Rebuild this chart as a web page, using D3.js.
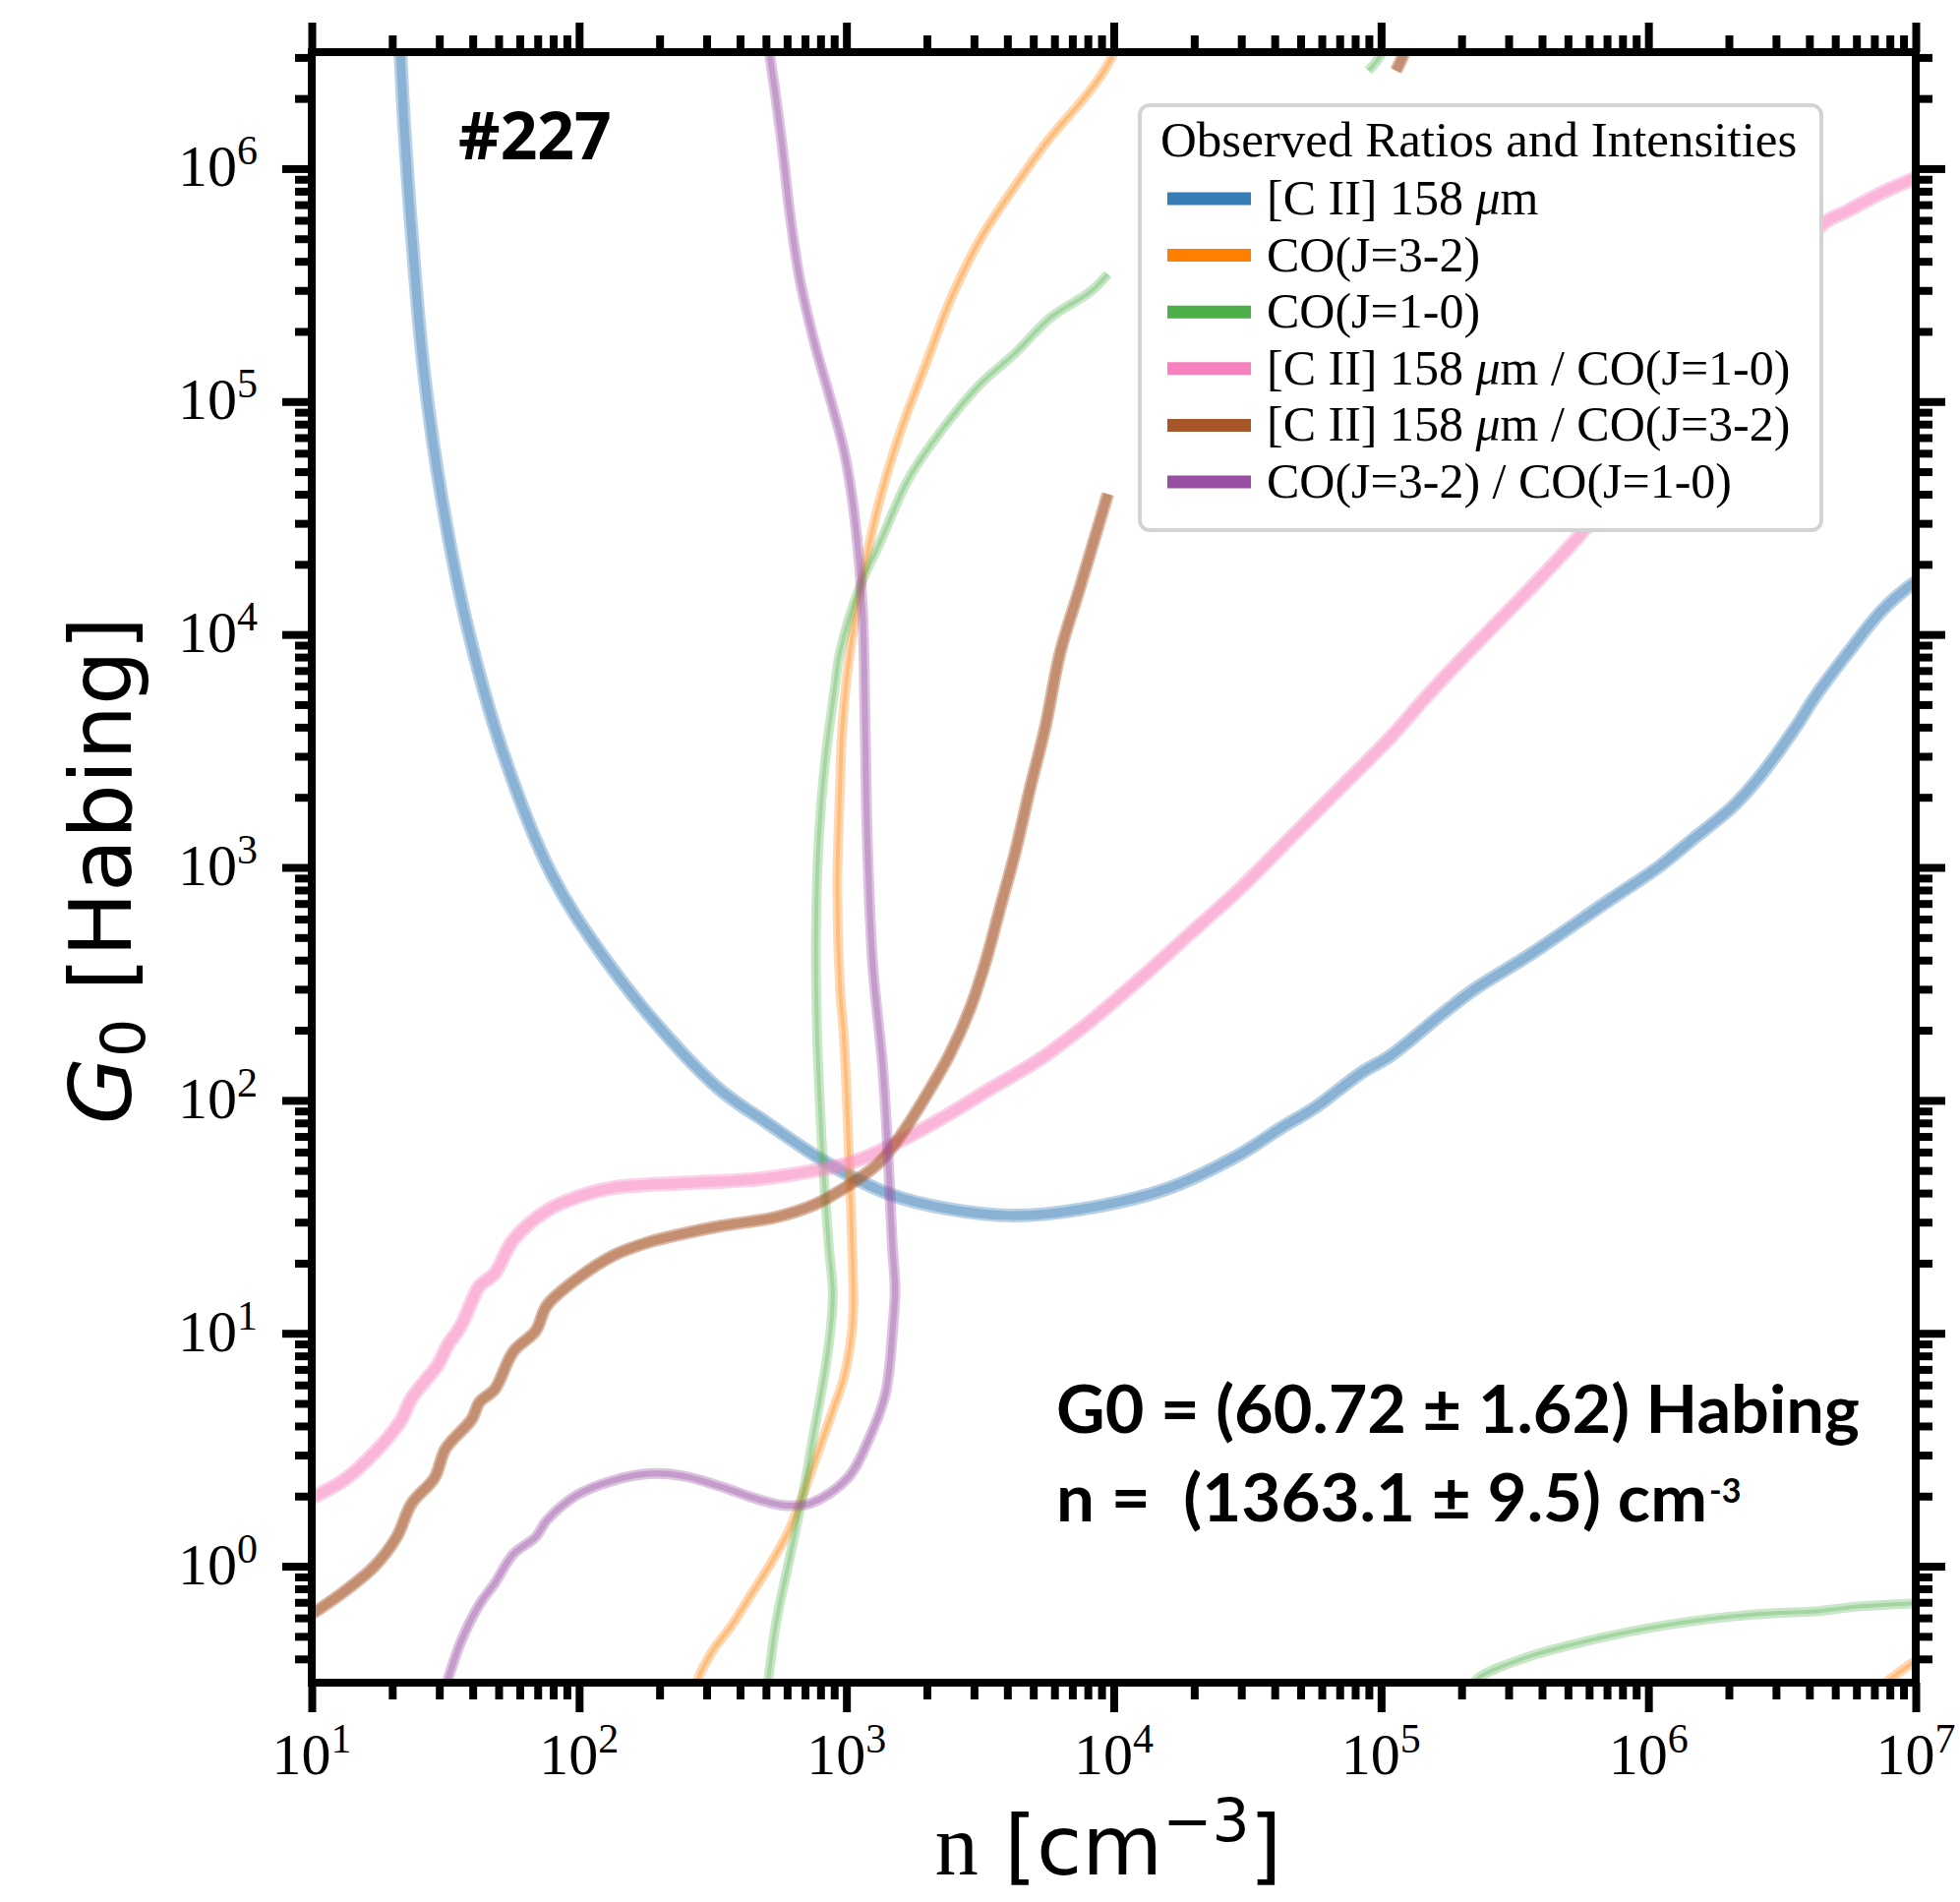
<!DOCTYPE html>
<html>
<head>
<meta charset="utf-8">
<script src="https://cdn.jsdelivr.net/npm/d3@7"></script>
<style>
    body { margin: 0; background: #fff; }
    svg { display: block; }
</style>
</head>
<body>
<svg id="chart"></svg>
<script>
const svgWidth = 1993
const svgHeight = 1934
const margin = { left: 317, right: 45, top: 53, bottom: 223 }
const width = svgWidth - margin.left - margin.right
const height = svgHeight - margin.top - margin.bottom

// curve points, as [log10 n, log10 G0]
const ciiLine = [[1.325, 6.60], [1.331, 6.505], [1.345, 6.199], [1.378, 5.661], [1.420, 5.124], [1.486, 4.586],
    [1.579, 4.048], [1.710, 3.511], [1.896, 2.973], [2.083, 2.630], [2.303, 2.310], [2.527, 2.045], [2.695, 1.910],
    [2.919, 1.737], [3.162, 1.597], [3.390, 1.532], [3.633, 1.505], [3.876, 1.532], [4.193, 1.618], [4.473, 1.769],
    [4.618, 1.876], [4.758, 1.973], [4.926, 2.118], [5.038, 2.194], [5.234, 2.376], [5.351, 2.478], [5.547, 2.618],
    [5.855, 2.860], [6.042, 3.005], [6.163, 3.118], [6.317, 3.263], [6.411, 3.382], [6.551, 3.602], [6.626, 3.737],
    [6.752, 3.930], [6.873, 4.102], [6.980, 4.210], [7.02, 4.24]]

const co32Line = [[2.433, -0.548], [2.443, -0.490], [2.499, -0.364], [2.570, -0.255], [2.640, -0.128], [2.710, -0.001],
    [2.781, 0.144], [2.837, 0.306], [2.893, 0.487], [2.949, 0.668], [2.991, 0.812], [3.019, 0.993], [3.026, 1.120],
    [3.021, 1.391], [3.010, 1.753], [3.000, 2.049], [2.989, 2.296], [2.976, 2.481], [2.966, 2.912], [2.976, 3.344],
    [2.985, 3.606], [3.013, 3.924], [3.070, 4.301], [3.126, 4.584], [3.201, 4.868], [3.294, 5.151], [3.388, 5.434],
    [3.501, 5.698], [3.631, 5.925], [3.762, 6.133], [3.875, 6.284], [3.951, 6.397], [3.997, 6.491], [4.011, 6.548]]
const co32Corner = [[6.868, -0.522], [6.905, -0.484], [6.982, -0.419], [7.02, -0.39]]

const co10Line = [[2.699, -0.548], [2.707, -0.490], [2.738, -0.236], [2.781, -0.001], [2.837, 0.306], [2.879, 0.578],
    [2.921, 0.848], [2.942, 1.030], [2.949, 1.174], [2.933, 1.392], [2.912, 1.737], [2.900, 2.005], [2.891, 2.265],
    [2.886, 2.696], [2.897, 3.128], [2.920, 3.452], [2.957, 3.776], [2.976, 3.924], [3.051, 4.207], [3.126, 4.396],
    [3.238, 4.679], [3.388, 4.924], [3.501, 5.075], [3.631, 5.208], [3.762, 5.359], [3.913, 5.472], [3.978, 5.547]]
const co10Top = [[4.953, 6.420], [5.000, 6.491], [5.010, 6.548]]
const co10Low = [[5.328, -0.548], [5.359, -0.484], [5.545, -0.391], [5.699, -0.341], [5.854, -0.299], [6.009, -0.264],
    [6.163, -0.236], [6.318, -0.215], [6.472, -0.201], [6.627, -0.194], [6.782, -0.173], [6.982, -0.160], [7.02, -0.158]]

const ciiCo10Line = [[0.98, 0.28], [1.009, 0.298], [1.121, 0.370], [1.234, 0.487], [1.332, 0.623], [1.374, 0.722],
    [1.473, 0.867], [1.508, 0.948], [1.557, 1.030], [1.599, 1.138], [1.627, 1.202], [1.684, 1.256], [1.754, 1.401],
    [1.880, 1.527], [2.007, 1.590], [2.134, 1.626], [2.387, 1.645], [2.668, 1.662], [2.879, 1.698], [3.019, 1.734],
    [3.185, 1.816], [3.351, 1.919], [3.538, 2.049], [3.725, 2.178], [3.913, 2.340], [4.100, 2.524], [4.288, 2.718],
    [4.475, 2.912], [4.662, 3.128], [4.850, 3.344], [5.037, 3.560], [5.164, 3.726], [5.304, 3.898], [5.468, 4.091],
    [5.622, 4.274], [5.734, 4.414], [6.051, 4.844], [6.378, 5.285], [6.649, 5.758], [6.748, 5.820], [6.870, 5.894],
    [6.986, 5.954], [7.02, 5.97]]

const ciiCo32Line = [[0.98, -0.22], [1.009, -0.199], [1.121, -0.109], [1.234, -0.001], [1.318, 0.126], [1.374, 0.270],
    [1.459, 0.379], [1.501, 0.505], [1.599, 0.632], [1.627, 0.704], [1.684, 0.759], [1.754, 0.921], [1.838, 1.011],
    [1.880, 1.120], [2.007, 1.246], [2.134, 1.337], [2.260, 1.391], [2.387, 1.427], [2.527, 1.460], [2.738, 1.499],
    [2.882, 1.553], [3.013, 1.639], [3.126, 1.736], [3.219, 1.876], [3.313, 2.049], [3.388, 2.201], [3.463, 2.395],
    [3.519, 2.589], [3.575, 2.826], [3.631, 3.063], [3.688, 3.344], [3.744, 3.603], [3.800, 3.924], [3.875, 4.207],
    [3.978, 4.603]]
const ciiCo32Top = [[5.056, 6.420], [5.084, 6.491], [5.099, 6.548]]

const co32Co10Line = [[1.490, -0.548], [1.508, -0.490], [1.557, -0.327], [1.627, -0.165], [1.684, -0.074], [1.754, 0.052],
    [1.838, 0.126], [1.880, 0.198], [1.993, 0.306], [2.134, 0.370], [2.260, 0.397], [2.387, 0.388], [2.527, 0.343],
    [2.668, 0.288], [2.766, 0.261], [2.865, 0.270], [3.005, 0.379], [3.089, 0.559], [3.146, 0.740], [3.174, 1.030],
    [3.182, 1.186], [3.171, 1.392], [3.157, 1.737], [3.136, 2.140], [3.098, 2.589], [3.078, 3.128], [3.070, 3.606],
    [3.060, 4.112], [3.032, 4.490], [2.994, 4.773], [2.938, 5.019], [2.882, 5.246], [2.825, 5.529], [2.788, 5.812],
    [2.760, 6.095], [2.732, 6.341], [2.713, 6.491], [2.709, 6.548]]

const labels = ['[C II] 158 μm', 'CO(J=3-2)', 'CO(J=1-0)', '[C II] 158 μm / CO(J=1-0)',
    '[C II] 158 μm / CO(J=3-2)', 'CO(J=3-2) / CO(J=1-0)']
const xExponents = [1, 2, 3, 4, 5, 6, 7]
const yExponents = [0, 1, 2, 3, 4, 5, 6]
const fitText = ['G0 = (60.72 ± 1.62) Habing', 'n =  (1363.1 ± 9.5) cm']

const series = [
    { label: labels[0], colour: '#377eb8', segments: [ciiLine], band: 14, core: 9, alpha: 0.36 },
    { label: labels[1], colour: '#ff7f00', segments: [co32Line, co32Corner], band: 10, core: 4, alpha: 0.3 },
    { label: labels[2], colour: '#4daf4a', segments: [co10Line, co10Top, co10Low], band: 10, core: 4, alpha: 0.3 },
    { label: labels[3], colour: '#f781bf', segments: [ciiCo10Line], band: 15, core: 10, alpha: 0.36 },
    { label: labels[4], colour: '#a65628', segments: [ciiCo32Line, ciiCo32Top], band: 13, core: 9, alpha: 0.42 },
    { label: labels[5], colour: '#984ea3', segments: [co32Co10Line], band: 11, core: 6, alpha: 0.34 }
]

const svg = d3.select('#chart')
    .attr('width', svgWidth)
    .attr('height', svgHeight)
svg.append('rect').attr('width', svgWidth).attr('height', svgHeight).attr('fill', '#fff')

const chart = svg.append('g')
    .attr('transform', `translate(${[margin.left, margin.top]})`)

const x = d3.scaleLog().domain([1e1, 1e7]).range([0, width])
const y = d3.scaleLog().domain([10 ** -0.5, 10 ** 6.5]).range([height, 0])

chart.append('clipPath').attr('id', 'plot-clip')
    .append('rect').attr('width', width).attr('height', height)

const line = d3.line()
    .x(d => x(10 ** d[0]))
    .y(d => y(10 ** d[1]))
    .curve(d3.curveCatmullRom.alpha(0.5))

const curves = chart.append('g').attr('clip-path', 'url(#plot-clip)')
series.forEach(s => {
    s.segments.forEach(seg => {
        curves.append('path').attr('d', line(seg))
            .attr('fill', 'none').attr('stroke', s.colour)
            .attr('stroke-width', s.band).attr('stroke-opacity', s.alpha)
            .attr('stroke-linejoin', 'round')
        curves.append('path').attr('d', line(seg))
            .attr('fill', 'none').attr('stroke', s.colour)
            .attr('stroke-width', s.core).attr('stroke-opacity', s.alpha)
            .attr('stroke-linejoin', 'round')
    })
})

// ticks, all pointing outwards
const xMajor = xExponents.map(e => 10 ** e)
const yMajor = yExponents.map(e => 10 ** e)
const xMinor = []
d3.range(1, 7).forEach(e => d3.range(2, 10).forEach(k => xMinor.push(k * 10 ** e)))
const yMinor = [0.4, 0.5, 0.6, 0.7, 0.8, 0.9, 2e6, 3e6]
d3.range(0, 6).forEach(e => d3.range(2, 10).forEach(k => yMinor.push(k * 10 ** e)))

const drawTicks = (axis, values, size, shift) => {
    chart.append('g')
        .attr('transform', `translate(${shift})`)
        .call(axis.tickValues(values).tickSize(size).tickSizeOuter(0).tickFormat(''))
        .call(g => g.select('.domain').remove())
        .call(g => g.selectAll('.tick line').attr('stroke', '#000').attr('stroke-width', 8))
}
drawTicks(d3.axisBottom(x), xMajor, 30, [0, height])
drawTicks(d3.axisBottom(x), xMinor, 17, [0, height])
drawTicks(d3.axisTop(x), xMajor, 30, [0, 0])
drawTicks(d3.axisTop(x), xMinor, 17, [0, 0])
drawTicks(d3.axisLeft(y), yMajor, 30, [0, 0])
drawTicks(d3.axisLeft(y), yMinor, 17, [0, 0])
drawTicks(d3.axisRight(y), yMajor, 30, [width, 0])
drawTicks(d3.axisRight(y), yMinor, 17, [width, 0])

chart.append('rect')
    .attr('width', width).attr('height', height)
    .attr('fill', 'none').attr('stroke', '#000').attr('stroke-width', 8)

// tick labels 10^k
const powerLabel = (sel, e) => {
    sel.append('tspan').text('10')
    sel.append('tspan').attr('dy', -22).style('font-size', '42px').text(e)
}
chart.append('g').selectAll('text')
    .data(xExponents)
    .join('text')
    .attr('x', d => x(10 ** d))
    .attr('y', height + 93)
    .attr('text-anchor', 'middle')
    .style('font-family', 'Liberation Serif, serif')
    .style('font-size', '60px')
    .each(function (d) { powerLabel(d3.select(this), d) })

chart.append('g').selectAll('text')
    .data(yExponents)
    .join('text')
    .attr('x', -55)
    .attr('y', d => y(10 ** d) + 18)
    .attr('text-anchor', 'end')
    .style('font-family', 'Liberation Serif, serif')
    .style('font-size', '60px')
    .each(function (d) { powerLabel(d3.select(this), d) })

// axis titles
const yTitle = svg.append('text')
    .attr('transform', 'translate(133, 885) rotate(-90)')
    .attr('text-anchor', 'middle')
    .style('font-family', 'DejaVu Sans, sans-serif')
    .style('font-size', '88px')
yTitle.append('tspan').style('font-style', 'italic').text('G')
yTitle.append('tspan').attr('dy', 14).style('font-size', '62px').text('0')
yTitle.append('tspan').attr('dy', -14).text(' [Habing]')

const xTitle = svg.append('text')
    .attr('x', 1127).attr('y', 1906)
    .attr('text-anchor', 'middle')
    .style('font-family', 'DejaVu Sans, sans-serif')
    .style('font-size', '84px')
xTitle.append('tspan').style('font-family', 'Liberation Serif, serif').style('font-size', '88px').text('n')
xTitle.append('tspan').text(' [cm')
xTitle.append('tspan').attr('dy', -34).style('font-size', '60px').text('−3')
xTitle.append('tspan').attr('dy', 34).text(']')

// legend
const legend = svg.append('g')
legend.append('rect')
    .attr('x', 1159).attr('y', 107).attr('width', 693).attr('height', 432)
    .attr('rx', 10).attr('fill', '#fff').attr('stroke', '#d3d3d3').attr('stroke-width', 4)
legend.append('text')
    .attr('x', 1180).attr('y', 159)
    .style('font-family', 'Liberation Serif, serif').style('font-size', '51px')
    .text('Observed Ratios and Intensities')
series.forEach((s, i) => {
    const cy = 202 + i * 57.6
    legend.append('line')
        .attr('x1', 1187).attr('x2', 1272).attr('y1', cy).attr('y2', cy)
        .attr('stroke', s.colour).attr('stroke-width', 13)
    const t = legend.append('text')
        .attr('x', 1288).attr('y', cy + 16)
        .style('font-family', 'Liberation Serif, serif').style('font-size', '50px')
        .style('white-space', 'pre')
    s.label.split('μ').forEach((part, j) => {
        if (j > 0) t.append('tspan').style('font-style', 'italic').text('μ')
        t.append('tspan').text(part)
    })
})

// annotations
svg.append('text')
    .attr('x', 466).attr('y', 162)
    .style('font-family', 'Open Sans, sans-serif').style('font-weight', 'bold').style('font-size', '66px')
    .text('#227')

const fitFont = sel => sel
    .style('font-family', 'Lato, "Open Sans", sans-serif')
    .style('font-weight', 'bold').style('font-size', '66px')
    .style('white-space', 'pre')
svg.append('text').call(fitFont)
    .attr('x', 1074).attr('y', 1457)
    .attr('textLength', 817).attr('lengthAdjust', 'spacingAndGlyphs')
    .text(fitText[0])
const fit2 = svg.append('text').call(fitFont)
    .attr('x', 1074).attr('y', 1547)
fit2.append('tspan')
    .attr('textLength', 662).attr('lengthAdjust', 'spacingAndGlyphs')
    .text(fitText[1])
fit2.append('tspan').attr('dx', 2).attr('dy', -19).style('font-size', '34px').text('-3')
</script>
</body>
</html>
